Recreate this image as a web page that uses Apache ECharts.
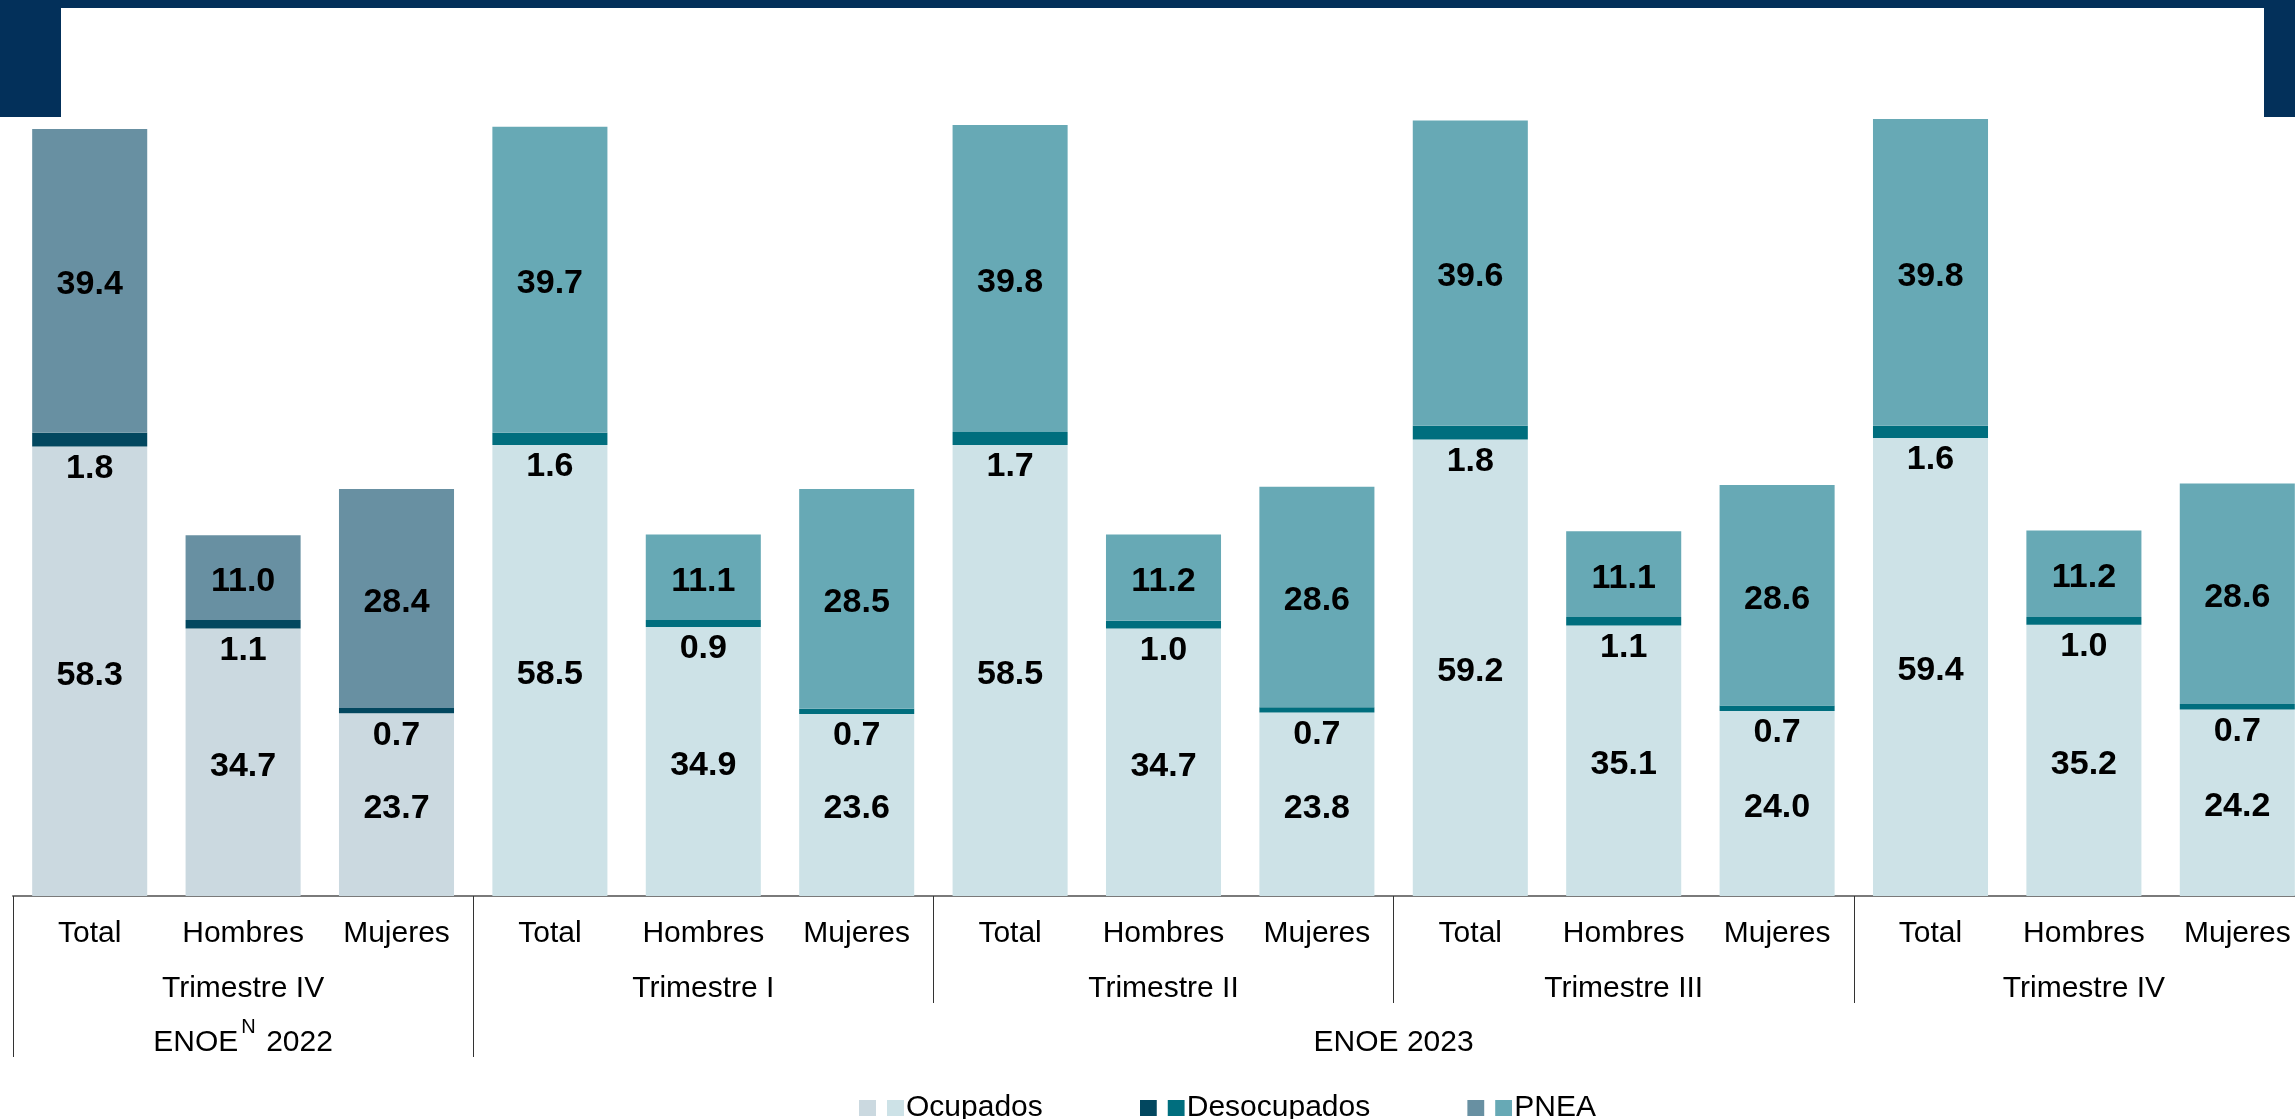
<!DOCTYPE html>
<html>
<head>
<meta charset="utf-8">
<script src="https://cdn.jsdelivr.net/npm/echarts@6/dist/echarts.min.js"></script>
<style>
html,body{margin:0;padding:0;background:#fff;}
#chart{width:2295px;height:1119px;}
</style>
</head>
<body>
<div id="chart"></div>
<script>
// ---- Data ----
const categories = ['Total','Hombres','Mujeres','Total','Hombres','Mujeres','Total','Hombres','Mujeres','Total','Hombres','Mujeres','Total','Hombres','Mujeres'];
const quarters = ['Trimestre IV','Trimestre I','Trimestre II','Trimestre III','Trimestre IV'];
const years = ['{m|ENOE}{s|N}{m| 2022}','{m|ENOE 2023}'];
const yearSpans = [3, 12];
const ocupados    = [58.3, 34.7, 23.7, 58.5, 34.9, 23.6, 58.5, 34.7, 23.8, 59.2, 35.1, 24.0, 59.4, 35.2, 24.2];
const desocupados = [1.8, 1.1, 0.7, 1.6, 0.9, 0.7, 1.7, 1.0, 0.7, 1.8, 1.1, 0.7, 1.6, 1.0, 0.7];
const pnea        = [39.4, 11.0, 28.4, 39.7, 11.1, 28.5, 39.8, 11.2, 28.6, 39.6, 11.1, 28.6, 39.8, 11.2, 28.6];
const seriesNames = ['Ocupados','Desocupados','PNEA'];

// ---- Style ----
const FONT = 'Liberation Sans, Arial, sans-serif';
const palette2022 = ['#CBD9E0', '#02475F', '#6890A2'];
const palette2023 = ['#CDE2E7', '#006E7E', '#67A9B5'];
const navy = '#03305A';

// year axis (half-category resolution, boundaryGap false)
const n = categories.length;
const yearAxisData = new Array(2 * n + 1).fill('');
const yearTickIdx = [];
let start = 0;
years.forEach((y, i) => {
  yearAxisData[2 * start + yearSpans[i]] = y;
  yearTickIdx.push(2 * start);
  start += yearSpans[i];
});
const firstYearCount = yearSpans[0];

function legendIcon(c1, c2) {
  const svg = '<svg xmlns="http://www.w3.org/2000/svg" width="45" height="16" viewBox="0 0 45 16">' +
    '<rect x="0" y="0" width="17" height="16" fill="' + c1 + '"/>' +
    '<rect x="28" y="0" width="17" height="16" fill="' + c2 + '"/></svg>';
  return 'image://data:image/svg+xml;charset=utf-8,' + encodeURIComponent(svg);
}

function makeSeries(idx, values, labelPos, offsetY) {
  return {
    name: seriesNames[idx],
    type: 'bar',
    stack: 'total',
    xAxisIndex: 0,
    barCategoryGap: '25%',
    data: values,
    itemStyle: {
      color: p => (p.dataIndex < firstYearCount ? palette2022[idx] : palette2023[idx])
    },
    label: {
      show: true,
      position: labelPos,
      distance: 5,
      offset: [0, offsetY],
      formatter: p => p.value.toFixed(1),
      color: '#000',
      fontFamily: FONT,
      fontWeight: 'bold',
      fontSize: 34
    },
    emphasis: { disabled: true }
  };
}

const chart = echarts.init(document.getElementById('chart'), null, { renderer: 'canvas' });
chart.setOption({
  animation: false,
  backgroundColor: '#fff',
  graphic: [
    { type: 'rect', shape: { x: 0, y: 0, width: 2295, height: 8 }, style: { fill: navy } },
    { type: 'rect', shape: { x: 0, y: 0, width: 61, height: 117 }, style: { fill: navy } },
    { type: 'rect', shape: { x: 2264, y: 0, width: 31, height: 117 }, style: { fill: navy } }
  ],
  legend: {
    left: 854,
    top: 1088,
    itemWidth: 45,
    itemHeight: 16,
    itemGap: 97,
    textStyle: { fontFamily: FONT, fontSize: 30, color: '#000', padding: [0, 0, 0, -3] },
    data: seriesNames.map((s, i) => ({ name: s, icon: legendIcon(palette2022[i], palette2023[i]) })),
    selectedMode: false
  },
  grid: { left: 13, right: -19, top: 48, bottom: 223, containLabel: false, outerBoundsMode: 'none' },
  yAxis: { type: 'value', min: 0, max: 110, show: false },
  xAxis: [
    {
      type: 'category',
      data: categories,
      position: 'bottom',
      axisLine: { show: true, lineStyle: { color: '#7a7a7a', width: 2 } },
      axisTick: { show: true, interval: i => i % 3 === 0, length: 107, lineStyle: { color: '#333', width: 1 } },
      axisLabel: { interval: 0, margin: 23, fontFamily: FONT, fontSize: 30, color: '#000' }
    },
    {
      type: 'category',
      data: quarters,
      position: 'bottom',
      axisLine: { show: false },
      axisTick: { show: false },
      axisLabel: { interval: 0, margin: 78, fontFamily: FONT, fontSize: 30, color: '#000' }
    },
    {
      type: 'category',
      data: yearAxisData,
      boundaryGap: false,
      position: 'bottom',
      axisLine: { show: false },
      axisTick: { show: true, interval: i => yearTickIdx.indexOf(i) >= 0, length: 161, lineStyle: { color: '#333', width: 1 } },
      axisLabel: {
        interval: 0,
        margin: 121,
        color: '#000',
        rich: {
          m: { fontFamily: FONT, fontSize: 30, lineHeight: 52, color: '#000' },
          s: { fontFamily: FONT, fontSize: 20, lineHeight: 20, verticalAlign: 'top', color: '#000', padding: [0, 2, 0, 3] }
        }
      }
    }
  ],
  series: [
    makeSeries(0, ocupados, 'inside', 4),
    makeSeries(1, desocupados, 'bottom', 0),
    makeSeries(2, pnea, 'inside', 4)
  ]
});
</script>
</body>
</html>
